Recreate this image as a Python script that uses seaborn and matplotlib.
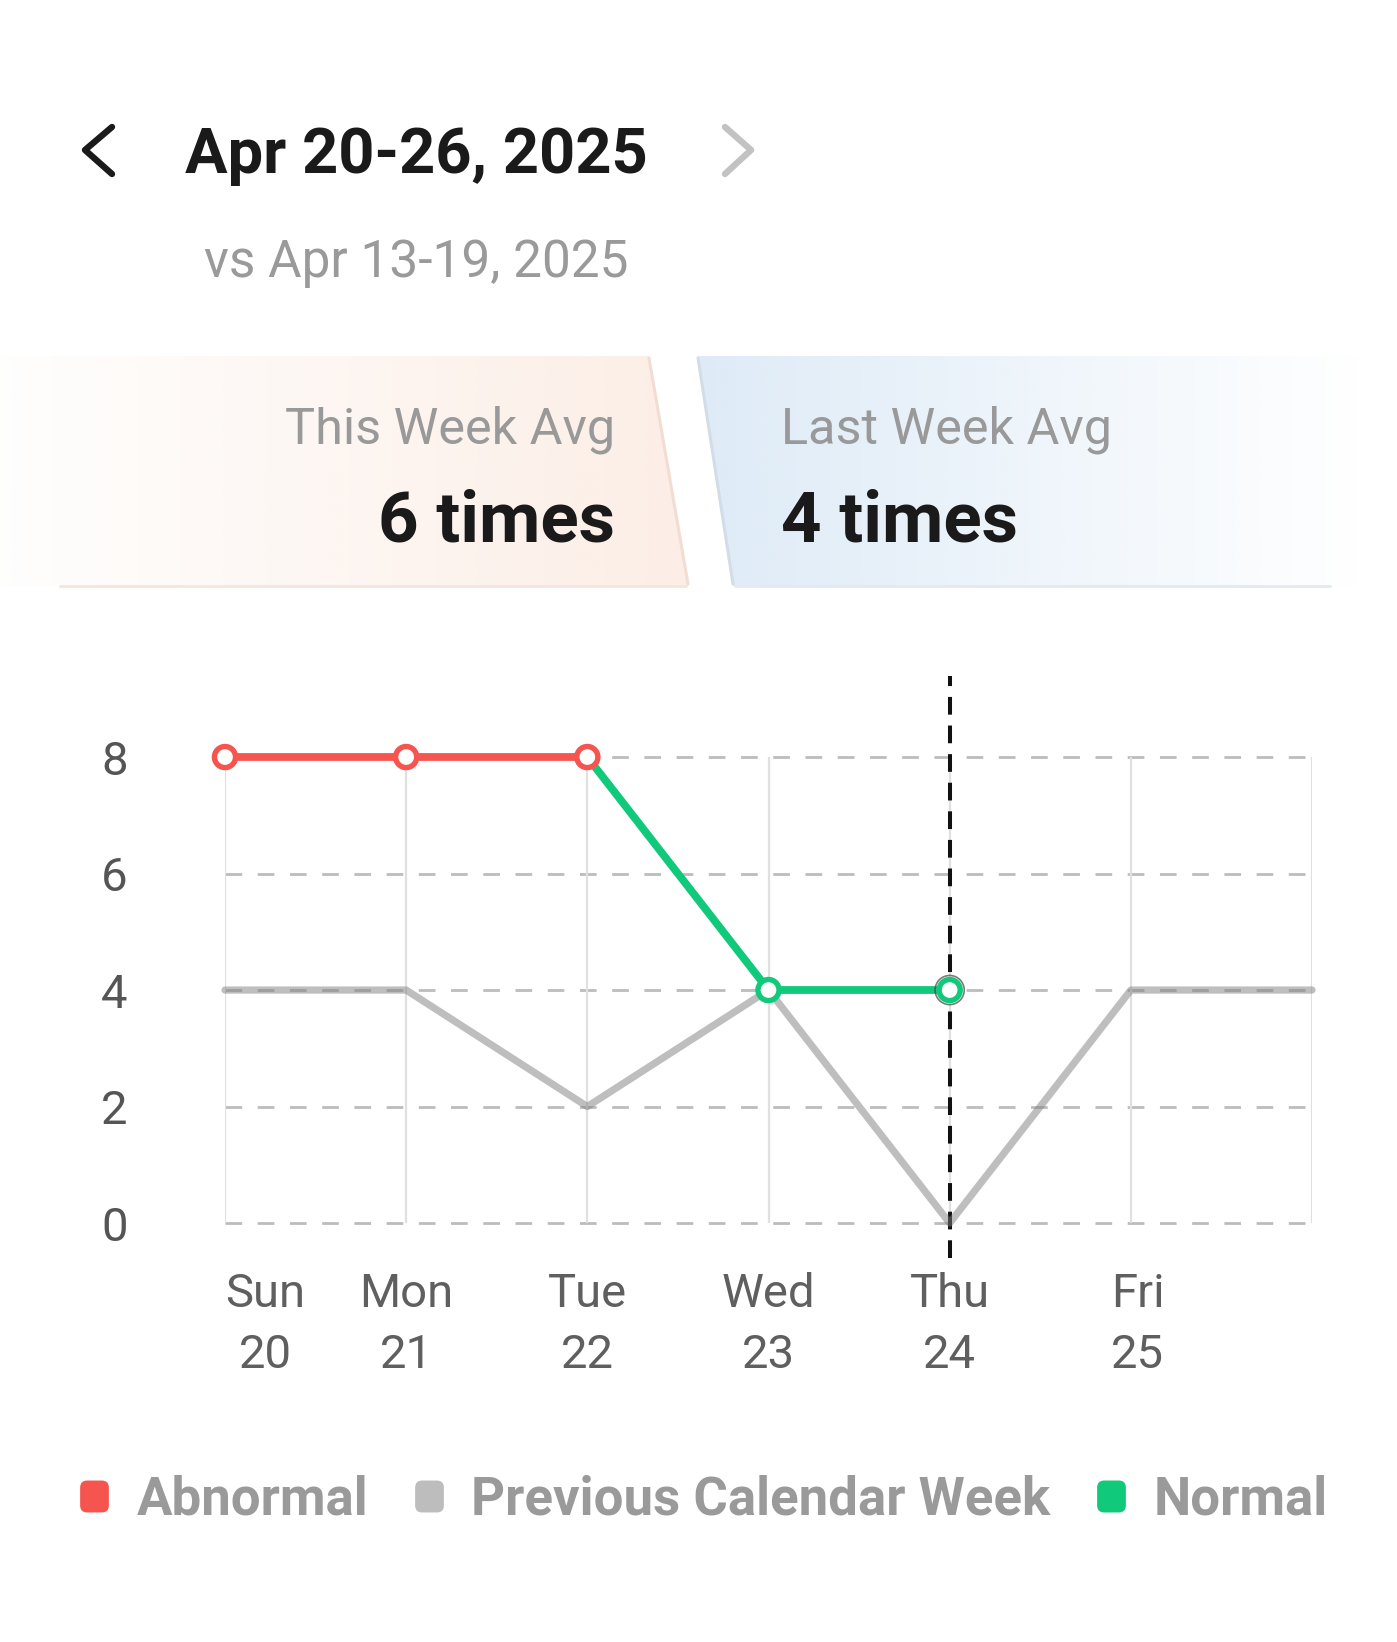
import numpy as np
import pandas as pd
import matplotlib.pyplot as plt
import seaborn as sns
from matplotlib.patches import Polygon, FancyBboxPatch
from matplotlib.lines import Line2D
from matplotlib.transforms import offset_copy

# data
days = ["Sun", "Mon", "Tue", "Wed", "Thu", "Fri", "Sat"]
dates = [20, 21, 22, 23, 24, 25, 26]
this_week = [8, 8, 8, 4, 4]
status = ["Abnormal", "Abnormal", "Abnormal", "Normal", "Normal"]
prev_week = [4, 4, 2, 4, 0, 4, 4]
y_ticks = [0, 2, 4, 6, 8]
selected_day = "Thu"
this_avg = 6
last_avg = 4
title = "Apr 20-26, 2025"
subtitle = "vs Apr 13-19, 2025"

colors = {"Abnormal": "#f5544f", "Previous Calendar Week": "#bdbdbd", "Normal": "#10c97b"}

sns.set_theme(style="white")
plt.rcParams["font.family"] = ["Roboto", "DejaVu Sans"]

W, H = 1397, 1642
fig = plt.figure(figsize=(W / 100, H / 100), dpi=100)
fig.patch.set_facecolor("white")

# background layer in pixel coordinates for header and cards
bg = fig.add_axes([0, 0, 1, 1], zorder=-1)
bg.set_xlim(0, W)
bg.set_ylim(H, 0)
bg.axis("off")


def card(pts, rgb, a0, a1):
    x0 = min(p[0] for p in pts)
    x1 = max(p[0] for p in pts)
    y0 = min(p[1] for p in pts)
    y1 = max(p[1] for p in pts)
    grad = np.zeros((1, 256, 4))
    grad[..., :3] = np.array(rgb) / 255
    grad[..., 3] = np.linspace(a0, a1, 256)
    poly = Polygon(pts, closed=True, facecolor="none", edgecolor="none")
    bg.add_patch(poly)
    im = bg.imshow(grad, extent=[x0, x1, y1, y0], aspect="auto", interpolation="bilinear")
    im.set_clip_path(poly)


card([(0, 356), (649, 356), (688, 586), (0, 586)], (252, 238, 230), 0.05, 1.0)
card([(698, 356), (1361, 356), (1361, 586), (733, 586)], (222, 235, 247), 1.0, 0.0)
bg.plot([649, 688], [358, 584], color="#f1ddd3", lw=2.2, solid_capstyle="round")
bg.plot([698, 733], [358, 584], color="#d2dde7", lw=2.2, solid_capstyle="round")
bg.plot([60, 686], [586, 586], color="#f3e6df", lw=2)
bg.plot([735, 1330], [586, 586], color="#e3e9ef", lw=2)

# header
bg.plot([112, 85, 112], [127, 150, 174], color="#1a1a1a", lw=4.6,
        solid_capstyle="round", solid_joinstyle="round")
bg.plot([725, 751, 725], [127, 150, 174], color="#c2c2c2", lw=4.6,
        solid_capstyle="round", solid_joinstyle="round")
bg.text(185, 173, title, fontsize=45.5, fontweight="bold", color="#1a1a1a", va="baseline")
bg.text(204, 277, subtitle, fontsize=37, color="#9a9a9a", va="baseline")

bg.text(615, 444, "This Week Avg", fontsize=36.3, color="#999999", ha="right", va="baseline")
bg.text(615, 541, f"{this_avg} times", fontsize=51, fontweight="bold", color="#1a1a1a",
        ha="right", va="baseline")
bg.text(781, 444, "Last Week Avg", fontsize=36.3, color="#999999", ha="left", va="baseline")
bg.text(781, 541, f"{last_avg} times", fontsize=51, fontweight="bold", color="#1a1a1a",
        ha="left", va="baseline")

# chart
ax = fig.add_axes([225 / W, 1 - 1258 / H, (1312 - 225) / W, (1258 - 675.5) / H])
ax.set_facecolor("none")
x_all = list(range(len(days)))
ax.set_xlim(0, len(days) - 1)
ax.set_ylim(-0.6, 9.4)

for y in y_ticks:
    ax.axhline(y, color="#bcbcbc", lw=2, dashes=(6, 5.6), zorder=1)
ax.vlines(x_all, min(y_ticks), max(y_ticks), color="#e0e0e0", lw=1.6, zorder=1)

prev_df = pd.DataFrame({"x": x_all, "y": prev_week})
sns.lineplot(data=prev_df, x="x", y="y", ax=ax, color="#7f7f7f", alpha=0.5, lw=5.2,
             solid_capstyle="round", clip_on=False, zorder=5)

for i in range(len(this_week) - 1):
    seg = pd.DataFrame({"x": [i, i + 1], "y": this_week[i:i + 2]})
    sns.lineplot(data=seg, x="x", y="y", ax=ax, color=colors[status[i + 1]], lw=5.6,
                 solid_capstyle="round", clip_on=False, zorder=3)

sel = days.index(selected_day)
ax.axvline(sel, color="#111111", lw=2.9, dashes=(4.4, 2.7), zorder=4)

cur_df = pd.DataFrame({"x": x_all[:len(this_week)], "y": this_week, "status": status})
sns.scatterplot(data=cur_df, x="x", y="y", hue="status", palette=colors, s=230,
                linewidth=3.9, ax=ax, legend=False, zorder=6, clip_on=False)
coll = ax.collections[-1]
coll.set_edgecolors([colors[s] for s in status])
coll.set_facecolors("white")
ax.scatter([sel], [this_week[sel]], s=440, facecolors="none", edgecolors="#444444",
           linewidths=1.2, alpha=0.7, zorder=5.9, clip_on=False)

ax.set_yticks(y_ticks)
ax.set_yticklabels([str(v) for v in y_ticks], fontsize=34, color="#555555")
tick_labels = [f"{d}\n{n}" for d, n in zip(days[:-1], dates[:-1])] + [""]
ax.set_xticks(x_all)
ax.set_xticklabels(tick_labels, fontsize=34, color="#5f5f5f", linespacing=1.5)
ax.tick_params(axis="y", length=0, pad=70)
ax.tick_params(axis="x", length=0, pad=10)
xt = ax.get_xticklabels()
xt[0].set_ha("left")
xt[0].set_multialignment("center")
xt[5].set_transform(offset_copy(xt[5].get_transform(), fig=fig, x=5, y=0, units="points"))
ax.set_xlabel("")
ax.set_ylabel("")
sns.despine(ax=ax, left=True, bottom=True)

# rounded square legend keys
box = FancyBboxPatch((-0.45, -0.5), 0.9, 1.0, boxstyle="round,pad=0,rounding_size=0.22")
key = box.get_path()
handles = [Line2D([], [], linestyle="none", marker=key, markersize=23, color=c,
                  markeredgewidth=0, label=l) for l, c in colors.items()]
fig.legend(handles=handles, loc="center", bbox_to_anchor=(703 / W, 1 - 1500 / H), ncol=3,
           frameon=False, prop={"weight": "bold", "size": 38}, labelcolor="#9a9a9a",
           handlelength=0.6, handletextpad=0.5, columnspacing=0.85)

fig.savefig("out.png", dpi=100, facecolor="white")
